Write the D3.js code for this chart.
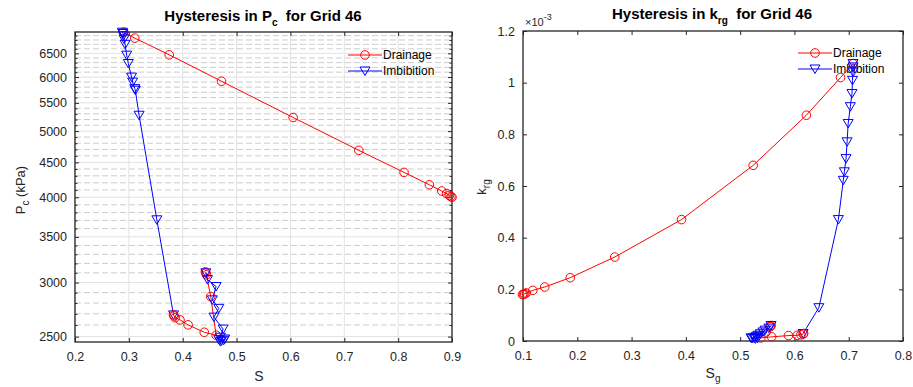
<!DOCTYPE html>
<html>
<head>
<meta charset="utf-8">
<script src="https://cdn.jsdelivr.net/npm/d3@7"></script>
<style>
    body { margin: 0; background: #fff; }
    svg { font-family: 'Liberation Sans', Arial, sans-serif; }
    text { white-space: pre; }
</style>
</head>
<body>
<div class="chart"></div>
<script>
// left panel: capillary pressure vs S (two drainage / imbibition cycles)
const drain1S = [0.900, 0.898, 0.895, 0.890, 0.881, 0.858, 0.811, 0.727, 0.605, 0.472, 0.375, 0.311, 0.290];
const drain1Pc = [4000, 4010, 4025, 4050, 4085, 4172, 4350, 4686, 5235, 5916, 6467, 6842, 6980];
const imb1S = [0.288, 0.289, 0.290, 0.291, 0.293, 0.296, 0.299, 0.305, 0.307, 0.311, 0.312, 0.319, 0.352, 0.383];
const imb1Pc = [6980, 6950, 6900, 6820, 6700, 6460, 6280, 6000, 5900, 5770, 5740, 5275, 3707, 2690];
const drain2S = [0.383, 0.384, 0.386, 0.395, 0.410, 0.440, 0.462, 0.452, 0.444, 0.443, 0.442];
const drain2Pc = [2690, 2680, 2665, 2645, 2601, 2537, 2512, 2862, 3080, 3100, 3110];
const imb2S = [0.443, 0.446, 0.462, 0.455, 0.467, 0.458, 0.475, 0.470, 0.467, 0.472, 0.476, 0.478, 0.470];
const imb2Pc = [3100, 3030, 2960, 2830, 2750, 2670, 2565, 2495, 2475, 2465, 2470, 2480, 2458];

// right panel: krg (x1e-3) vs Sg
const drain1Sg = [0.099, 0.101, 0.103, 0.106, 0.118, 0.140, 0.187, 0.269, 0.392, 0.524, 0.622, 0.685, 0.708];
const drain1Krg = [0.180, 0.181, 0.182, 0.186, 0.196, 0.209, 0.245, 0.325, 0.470, 0.680, 0.874, 1.020, 1.074];
const imb1Sg = [0.708, 0.708, 0.708, 0.707, 0.706, 0.703, 0.699, 0.697, 0.695, 0.692, 0.690, 0.681, 0.645, 0.616];
const imb1Krg = [1.074, 1.061, 1.041, 1.009, 0.958, 0.907, 0.842, 0.771, 0.706, 0.655, 0.622, 0.470, 0.129, 0.029];
const drain2Sg = [0.617, 0.616, 0.612, 0.605, 0.589, 0.558, 0.538, 0.548, 0.555, 0.557, 0.556];
const drain2Krg = [0.029, 0.027, 0.024, 0.022, 0.021, 0.016, 0.012, 0.035, 0.055, 0.060, 0.058];
const imb2Sg = [0.557, 0.553, 0.546, 0.542, 0.537, 0.533, 0.530, 0.527, 0.525, 0.522, 0.520, 0.528, 0.532];
const imb2Krg = [0.060, 0.050, 0.042, 0.035, 0.028, 0.022, 0.018, 0.014, 0.012, 0.010, 0.012, 0.008, 0.010];

// ticks
const leftXTicks = [0.2, 0.3, 0.4, 0.5, 0.6, 0.7, 0.8, 0.9];
const leftYTicks = [2500, 3000, 3500, 4000, 4500, 5000, 5500, 6000, 6500];
const rightXTicks = [0.1, 0.2, 0.3, 0.4, 0.5, 0.6, 0.7, 0.8];
const rightYTicks = [0, 0.2, 0.4, 0.6, 0.8, 1.0, 1.2];
const seriesNames = ['Drainage', 'Imbibition'];

(function () {
    'use strict';

    const svg = d3.select('.chart').append('svg')
        .attr('width', 913).attr('height', 387);

    const axisColor = '#262626';
    const red = '#ff0000';
    const blue = '#0000ff';
    const triangle = 'M-5,-4L5,-4L0,4.5Z';

    const zip = function (xs, ys) {
        return xs.map(function (x, i) { return [x, ys[i]]; });
    };

    const drawSeries = function (g, x, y, pts, color, marker) {
        const line = d3.line()
            .x(function (d) { return x(d[0]); })
            .y(function (d) { return y(d[1]); });

        g.append('path').datum(pts)
            .attr('d', line)
            .style('fill', 'none')
            .style('stroke', color)
            .style('stroke-width', 1);

        if (marker === 'circle') {
            g.selectAll(null).data(pts).enter().append('circle')
                .attr('cx', function (d) { return x(d[0]); })
                .attr('cy', function (d) { return y(d[1]); })
                .attr('r', 4.3)
                .style('fill', 'none')
                .style('stroke', color)
                .style('stroke-width', 1);
        } else {
            g.selectAll(null).data(pts).enter().append('path')
                .attr('d', triangle)
                .attr('transform', function (d) {
                    return 'translate(' + x(d[0]) + ',' + y(d[1]) + ')';
                })
                .style('fill', 'none')
                .style('stroke', color)
                .style('stroke-width', 1);
        }
    };

    const drawLegend = function (g, lx, ly) {
        const items = g.append('g').selectAll('g').data(seriesNames)
            .enter().append('g')
            .attr('transform', function (d, i) {
                return 'translate(' + lx + ',' + (ly + i * 16) + ')';
            });

        items.append('line')
            .attr('x1', 0).attr('x2', 34)
            .style('stroke', function (d, i) { return i ? blue : red; })
            .style('stroke-width', 1);

        items.each(function (d, i) {
            const it = d3.select(this);
            if (i === 0) {
                it.append('circle').attr('cx', 17).attr('r', 4.3)
                    .style('fill', 'none').style('stroke', red);
            } else {
                it.append('path').attr('d', triangle)
                    .attr('transform', 'translate(17,0)')
                    .style('fill', 'none').style('stroke', blue);
            }
        });

        items.append('text')
            .attr('x', 35).attr('dy', '0.35em')
            .style('font-size', '12px')
            .style('fill', '#000')
            .text(function (d) { return d; });
    };

    const styleAxis = function (sel) {
        sel.select('.domain').remove();
        sel.selectAll('line').style('stroke', axisColor);
        sel.selectAll('text').style('fill', axisColor).style('font-size', '12.5px')
            .style('font-family', "'Liberation Sans', Arial, sans-serif");
    };

    // ---------- left panel ----------
    const L = { x0: 75, x1: 452, y0: 32, y1: 342 };
    const xL = d3.scaleLinear().domain([0.2, 0.9]).range([L.x0, L.x1]);
    const yL = d3.scaleLog().domain([2455, 6985]).range([L.y1, L.y0]);
    const minorL = d3.range(2500, 7000, 100).filter(function (v) {
        return v % 500 !== 0 && v <= 6985;
    });

    const gl = svg.append('g');

    gl.append('g').selectAll('line').data(minorL).enter().append('line')
        .attr('x1', L.x0).attr('x2', L.x1)
        .attr('y1', function (d) { return yL(d); })
        .attr('y2', function (d) { return yL(d); })
        .style('stroke', '#cdcdcd')
        .style('stroke-dasharray', '6,3');

    gl.append('g').selectAll('line').data(leftYTicks).enter().append('line')
        .attr('x1', L.x0).attr('x2', L.x1)
        .attr('y1', function (d) { return yL(d); })
        .attr('y2', function (d) { return yL(d); })
        .style('stroke', '#e2e2e2');

    gl.append('g').selectAll('line').data(leftXTicks).enter().append('line')
        .attr('x1', function (d) { return xL(d); })
        .attr('x2', function (d) { return xL(d); })
        .attr('y1', L.y0).attr('y2', L.y1)
        .style('stroke', '#e2e2e2');

    gl.append('g').attr('transform', 'translate(0,' + L.y1 + ')')
        .call(d3.axisBottom(xL).tickValues(leftXTicks).tickFormat(d3.format('.1f'))
            .tickSizeInner(-4).tickSizeOuter(0).tickPadding(10))
        .call(styleAxis);
    gl.append('g').attr('transform', 'translate(0,' + L.y0 + ')')
        .call(d3.axisTop(xL).tickValues(leftXTicks).tickFormat('')
            .tickSizeInner(-4).tickSizeOuter(0))
        .call(styleAxis);
    gl.append('g').attr('transform', 'translate(' + L.x0 + ',0)')
        .call(d3.axisLeft(yL).tickValues(leftYTicks).tickFormat(d3.format('d'))
            .tickSizeInner(-4).tickSizeOuter(0).tickPadding(8))
        .call(styleAxis);
    gl.append('g').attr('transform', 'translate(' + L.x0 + ',0)')
        .call(d3.axisLeft(yL).tickValues(minorL).tickFormat('')
            .tickSizeInner(-2.5).tickSizeOuter(0))
        .call(styleAxis);
    gl.append('g').attr('transform', 'translate(' + L.x1 + ',0)')
        .call(d3.axisRight(yL).tickValues(leftYTicks).tickFormat('')
            .tickSizeInner(-4).tickSizeOuter(0))
        .call(styleAxis);
    gl.append('g').attr('transform', 'translate(' + L.x1 + ',0)')
        .call(d3.axisRight(yL).tickValues(minorL).tickFormat('')
            .tickSizeInner(-2.5).tickSizeOuter(0))
        .call(styleAxis);

    gl.append('rect')
        .attr('x', L.x0).attr('y', L.y0)
        .attr('width', L.x1 - L.x0).attr('height', L.y1 - L.y0)
        .style('fill', 'none').style('stroke', axisColor).style('stroke-width', 1.3);

    drawLegend(gl, 348, 55);

    drawSeries(gl, xL, yL, zip(drain1S, drain1Pc), red, 'circle');
    drawSeries(gl, xL, yL, zip(imb1S, imb1Pc), blue, 'tri');
    drawSeries(gl, xL, yL, zip(drain2S, drain2Pc), red, 'circle');
    drawSeries(gl, xL, yL, zip(imb2S, imb2Pc), blue, 'tri');

    const tl = gl.append('text').attr('x', 263).attr('y', 21)
        .attr('text-anchor', 'middle')
        .style('font-size', '15px').style('font-weight', 'bold').style('fill', '#000');
    tl.append('tspan').text('Hysteresis in P');
    tl.append('tspan').attr('dy', 5).style('font-size', '10px').text('c');
    tl.append('tspan').attr('dy', -5).text('  for Grid 46');

    const yl = gl.append('text').attr('transform', 'translate(25,190) rotate(-90)')
        .attr('text-anchor', 'middle')
        .style('font-size', '13px').style('fill', axisColor);
    yl.append('tspan').text('P');
    yl.append('tspan').attr('dy', 4).style('font-size', '10px').text('c');
    yl.append('tspan').attr('dy', -4).text(' (kPa)');

    gl.append('text').attr('x', 259).attr('y', 381)
        .attr('text-anchor', 'middle')
        .style('font-size', '14px').style('fill', axisColor)
        .text('S');

    // ---------- right panel ----------
    const R = { x0: 523, x1: 903, y0: 31, y1: 341 };
    const xR = d3.scaleLinear().domain([0.1, 0.8]).range([R.x0, R.x1]);
    const yR = d3.scaleLinear().domain([0, 1.2]).range([R.y1, R.y0]);

    const gr = svg.append('g');

    gr.append('g').attr('transform', 'translate(0,' + R.y1 + ')')
        .call(d3.axisBottom(xR).tickValues(rightXTicks).tickFormat(d3.format('.1f'))
            .tickSizeInner(-4).tickSizeOuter(0).tickPadding(10))
        .call(styleAxis);
    gr.append('g').attr('transform', 'translate(0,' + R.y0 + ')')
        .call(d3.axisTop(xR).tickValues(rightXTicks).tickFormat('')
            .tickSizeInner(-4).tickSizeOuter(0))
        .call(styleAxis);
    gr.append('g').attr('transform', 'translate(' + R.x0 + ',0)')
        .call(d3.axisLeft(yR).tickValues(rightYTicks).tickFormat(d3.format('~g'))
            .tickSizeInner(-4).tickSizeOuter(0).tickPadding(8))
        .call(styleAxis);
    gr.append('g').attr('transform', 'translate(' + R.x1 + ',0)')
        .call(d3.axisRight(yR).tickValues(rightYTicks).tickFormat('')
            .tickSizeInner(-4).tickSizeOuter(0))
        .call(styleAxis);

    gr.append('rect')
        .attr('x', R.x0).attr('y', R.y0)
        .attr('width', R.x1 - R.x0).attr('height', R.y1 - R.y0)
        .style('fill', 'none').style('stroke', axisColor).style('stroke-width', 1.3);

    drawLegend(gr, 798, 53);

    drawSeries(gr, xR, yR, zip(drain1Sg, drain1Krg), red, 'circle');
    drawSeries(gr, xR, yR, zip(imb1Sg, imb1Krg), blue, 'tri');
    drawSeries(gr, xR, yR, zip(drain2Sg, drain2Krg), red, 'circle');
    drawSeries(gr, xR, yR, zip(imb2Sg, imb2Krg), blue, 'tri');

    const ex = gr.append('text').attr('x', 525).attr('y', 26)
        .style('font-size', '11px').style('fill', axisColor);
    ex.append('tspan').text('\u00d710');
    ex.append('tspan').attr('dy', -6).style('font-size', '9px').text('-3');

    const tr = gr.append('text').attr('x', 712).attr('y', 19)
        .attr('text-anchor', 'middle')
        .style('font-size', '15px').style('font-weight', 'bold').style('fill', '#000');
    tr.append('tspan').text('Hysteresis in k');
    tr.append('tspan').attr('dy', 5).style('font-size', '10px').text('rg');
    tr.append('tspan').attr('dy', -5).text('  for Grid 46');

    const yr = gr.append('text').attr('transform', 'translate(486,187) rotate(-90)')
        .attr('text-anchor', 'middle')
        .style('font-size', '13px').style('fill', axisColor);
    yr.append('tspan').text('k');
    yr.append('tspan').attr('dy', 4).style('font-size', '10px').text('rg');

    const xr = gr.append('text').attr('x', 713).attr('y', 378)
        .attr('text-anchor', 'middle')
        .style('font-size', '14px').style('fill', axisColor);
    xr.append('tspan').text('S');
    xr.append('tspan').attr('dy', 4).style('font-size', '10px').text('g');
}());
</script>
</body>
</html>
